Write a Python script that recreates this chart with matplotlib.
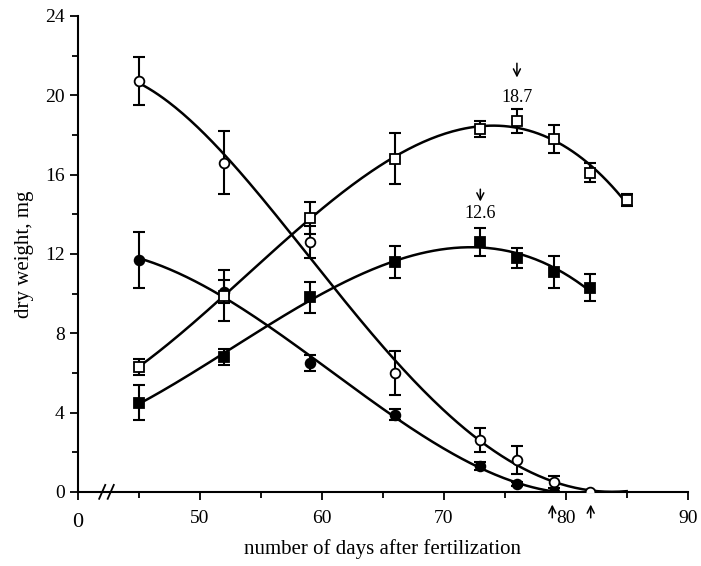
import numpy as np
import matplotlib
matplotlib.use("Agg")
import matplotlib.pyplot as plt

plt.rcParams["font.family"] = ["Liberation Serif", "DejaVu Serif"]

# sampling days
days = [45, 52, 59, 66, 73, 76, 79, 82, 85]

# open circles
oc_x = days[:8]
oc_y = [20.7, 16.6, 12.6, 6.0, 2.6, 1.6, 0.5, 0.0]
oc_e = [1.2, 1.6, 0.8, 1.1, 0.6, 0.7, 0.3, 0.0]

# filled circles
fc_x = days[:7]
fc_y = [11.7, 10.1, 6.5, 3.9, 1.3, 0.4, 0.0]
fc_e = [1.4, 0.6, 0.4, 0.3, 0.2, 0.1, 0.0]

# open squares
os_x = days
os_y = [6.3, 9.9, 13.8, 16.8, 18.3, 18.7, 17.8, 16.1, 14.7]
os_e = [0.4, 1.3, 0.8, 1.3, 0.4, 0.6, 0.7, 0.5, 0.3]

# filled squares
fs_x = days[:8]
fs_y = [4.5, 6.8, 9.8, 11.6, 12.6, 11.8, 11.1, 10.3]
fs_e = [0.9, 0.4, 0.8, 0.8, 0.7, 0.5, 0.8, 0.7]

# fitted curve ranges (days) and polynomial degree
curve_ranges = {"oc": (45, 85), "fc": (45, 79), "os": (45, 85), "fs": (45, 82)}
curve_deg = {"oc": 4, "fc": 3, "os": 3, "fs": 3}

fig = plt.figure(figsize=(7.01, 5.66), dpi=100)
ax = fig.add_axes([0.111, 0.131, 0.870, 0.841])

series = [
    ("oc", oc_x, oc_y, oc_e, "o", "white"),
    ("fc", fc_x, fc_y, fc_e, "o", "black"),
    ("os", os_x, os_y, os_e, "s", "white"),
    ("fs", fs_x, fs_y, fs_e, "s", "black"),
]

for key, x, y, e, mk, fc in series:
    coef = np.polyfit(x, y, curve_deg[key])
    lo, hi = curve_ranges[key]
    xx = np.linspace(lo, hi, 200)
    ax.plot(xx, np.polyval(coef, xx), color="black", lw=1.8, zorder=2)
    ax.errorbar(x, y, yerr=e, fmt="none", ecolor="black", elinewidth=1.5,
                capsize=4, capthick=1.5, zorder=3)
    ax.plot(x, y, mk, ms=7, mfc=fc, mec="black", mew=1.3, zorder=4)

# annotations: peak values with arrows
arrow = dict(arrowstyle="->,head_length=0.5,head_width=0.25", color="black", lw=1.1)
ax.annotate("", xy=(76, 20.75), xytext=(76, 21.75), arrowprops=arrow)
ax.text(76, 19.9, "18.7", ha="center", va="center", fontsize=13)
ax.annotate("", xy=(73, 14.5), xytext=(73, 15.4), arrowprops=arrow)
ax.text(73, 14.05, "12.6", ha="center", va="center", fontsize=13)
for xa in [78.9, 82.05]:
    ax.annotate("", xy=(xa, -0.5), xytext=(xa, -1.45), arrowprops=arrow,
                annotation_clip=False)

ax.set_xlim(40, 90)
ax.set_ylim(0, 24)
ax.set_xticks([40, 50, 60, 70, 80, 90])
ax.set_xticklabels(["", "50", "60", "70", "80", "90"])
ax.set_xticks([45, 55, 65, 75, 85], minor=True)
ax.set_yticks(range(0, 25, 4))
ax.set_yticks(range(2, 24, 4), minor=True)
ax.tick_params(axis="both", which="major", direction="out", length=6, width=1.3,
               labelsize=14)
ax.tick_params(axis="both", which="minor", direction="out", length=4, width=1.3)
ax.tick_params(axis="x", pad=7)

for s in ["top", "right"]:
    ax.spines[s].set_visible(False)
for s in ["left", "bottom"]:
    ax.spines[s].set_linewidth(1.5)

# "0" under the origin and axis break marks
ax.text(40, -1.55, "0", ha="center", va="center", fontsize=16, clip_on=False)
for xb in [42.0, 42.7]:
    ax.plot([xb - 0.25, xb + 0.25], [-0.35, 0.35], color="black", lw=1.3,
            clip_on=False)

ax.set_xlabel("number of days after fertilization", fontsize=15, labelpad=9)
ax.set_ylabel("dry weight, mg", fontsize=15, labelpad=8)

fig.savefig("out.png", dpi=100)
